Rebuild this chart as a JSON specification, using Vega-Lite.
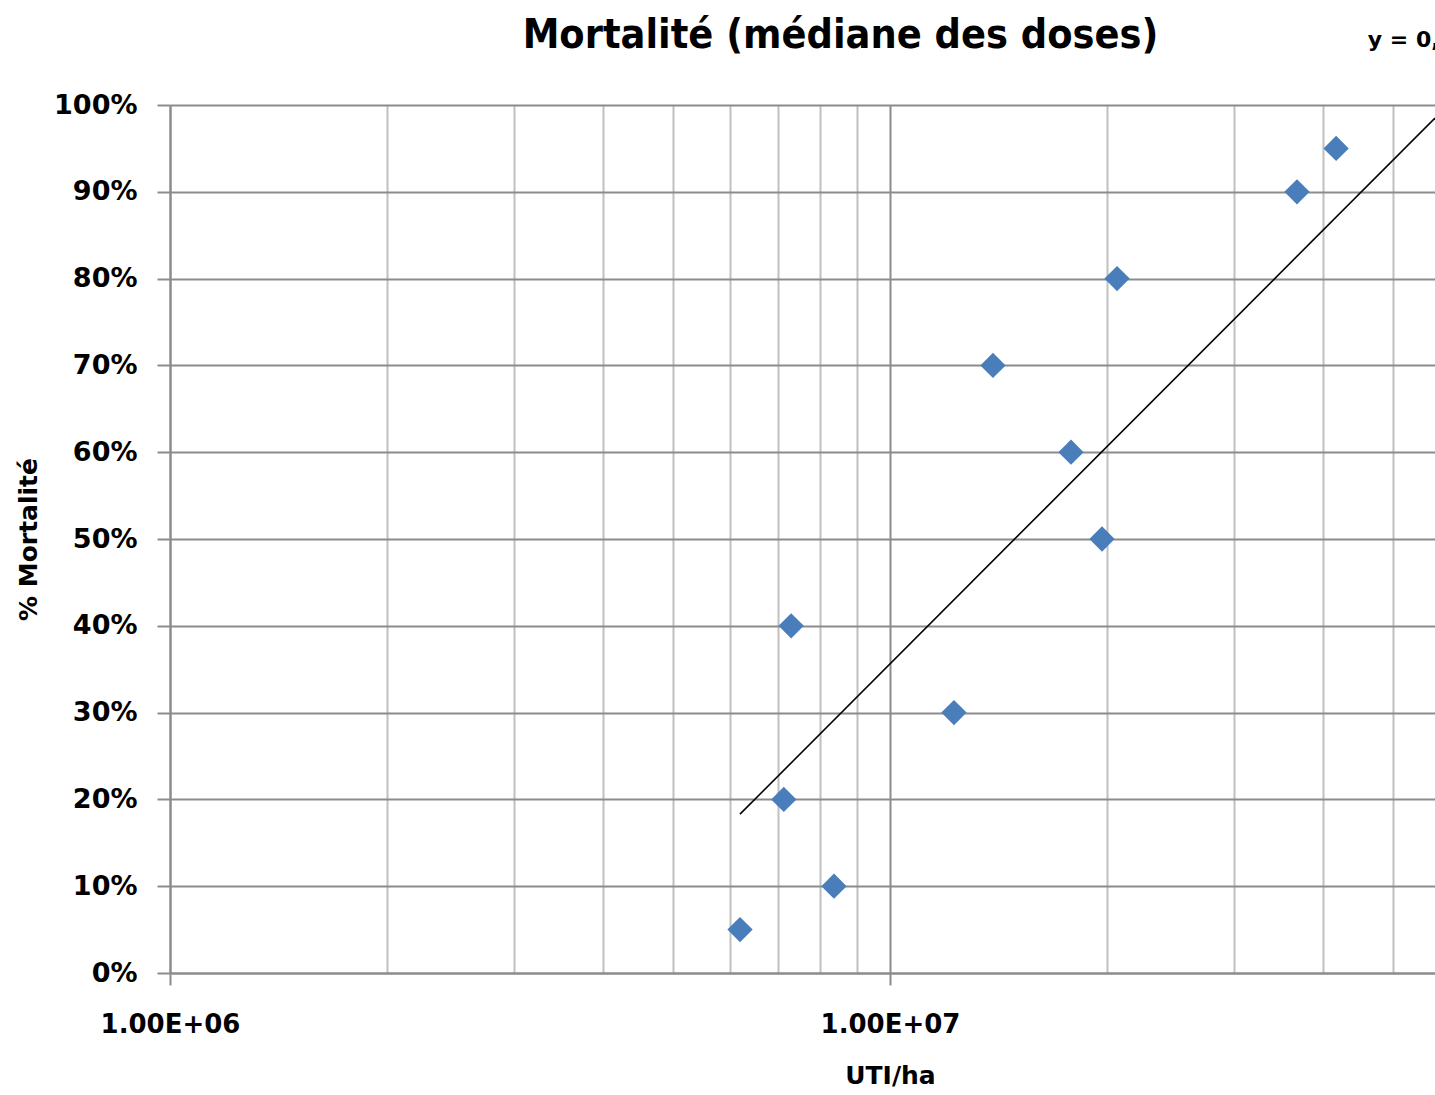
{
  "$schema": "https://vega.github.io/schema/vega-lite/v6.json",
  "autosize": {"type": "none"},
  "width": 1265,
  "height": 868,
  "padding": {"left": 170, "top": 105, "right": 0, "bottom": 122},
  "background": "white",
  "title": {
    "text": "Mortalité (médiane des doses)",
    "anchor": "middle",
    "frame": "group",
    "dx": 38,
    "offset": -60,
    "baseline": "alphabetic",
    "font": "DejaVu Sans Condensed, DejaVu Sans",
    "fontSize": 41,
    "fontWeight": "bold",
    "color": "black"
  },
  "datasets": {
    "points": [
      {"dose": 6190000, "mort": 0.05},
      {"dose": 7120000, "mort": 0.20},
      {"dose": 7290000, "mort": 0.40},
      {"dose": 8360000, "mort": 0.10},
      {"dose": 12270000, "mort": 0.30},
      {"dose": 13900000, "mort": 0.70},
      {"dose": 17840000, "mort": 0.60},
      {"dose": 19700000, "mort": 0.50},
      {"dose": 20670000, "mort": 0.80},
      {"dose": 36750000, "mort": 0.90},
      {"dose": 41650000, "mort": 0.95}
    ],
    "trend": [
      {"dose": 6190000, "mort": 0.183},
      {"dose": 57140000, "mort": 0.985}
    ],
    "eq": [
      {"dose": 46100000, "mort": 1.075, "label": "y = 0,361ln(x) - 5,463"}
    ]
  },
  "layer": [
    {
      "data": {"name": "points"},
      "mark": {"type": "point", "shape": "diamond", "filled": true, "size": 640, "color": "#4a7ebb", "opacity": 1, "strokeWidth": 0},
      "encoding": {
        "x": {
          "field": "dose", "type": "quantitative",
          "scale": {"type": "log", "domain": [1000000, 57140000], "nice": false, "zero": false},
          "axis": {
            "values": [1000000, 2000000, 3000000, 4000000, 5000000, 6000000, 7000000, 8000000, 9000000, 10000000, 20000000, 30000000, 40000000, 50000000],
            "labelExpr": "datum.value == 1000000 ? '1.00E+06' : (datum.value == 10000000 ? '1.00E+07' : '')",
            "labelOverlap": false,
            "labelBound": false,
            "labelFlush": false,
            "labelFont": "DejaVu Sans",
            "labelFontWeight": "bold",
            "labelFontSize": 26,
            "labelColor": "black",
            "labelPadding": 26,
            "tickSize": 12,
            "tickWidth": 2,
            "tickColor": {"condition": {"test": "datum.value == 1000000 || datum.value == 10000000", "value": "#8c8c8c"}, "value": "transparent"},
            "grid": true,
            "gridWidth": 2,
            "gridColor": {"condition": {"test": "datum.value == 1000000 || datum.value == 10000000", "value": "#8c8c8c"}, "value": "#c0c0c0"},
            "domainColor": "#8c8c8c",
            "domainWidth": 2,
            "title": "UTI/ha",
            "titleFont": "DejaVu Sans",
            "titleFontWeight": "bold",
            "titleFontSize": 25,
            "titleColor": "black",
            "titleX": 720,
            "titleY": 102,
            "titleAlign": "center",
            "titleBaseline": "middle"
          }
        },
        "y": {
          "field": "mort", "type": "quantitative",
          "scale": {"domain": [0, 1], "nice": false},
          "axis": {
            "values": [0, 0.1, 0.2, 0.3, 0.4, 0.5, 0.6, 0.7, 0.8, 0.9, 1.0],
            "format": ".0%",
            "labelFont": "DejaVu Sans",
            "labelFontWeight": "bold",
            "labelFontSize": 27,
            "labelColor": "black",
            "labelPadding": 20,
            "tickSize": 13,
            "tickWidth": 2,
            "tickColor": "#8c8c8c",
            "grid": true,
            "gridWidth": 2,
            "gridColor": "#8c8c8c",
            "domainColor": "#8c8c8c",
            "domainWidth": 2,
            "title": "% Mortalité",
            "titleFont": "DejaVu Sans",
            "titleFontWeight": "bold",
            "titleFontSize": 25,
            "titleColor": "black",
            "titleX": -142,
            "titleY": 434,
            "titleAngle": -90,
            "titleAlign": "center",
            "titleBaseline": "middle"
          }
        }
      }
    },
    {
      "data": {"name": "trend"},
      "mark": {"type": "line", "color": "black", "strokeWidth": 1.6, "clip": true},
      "encoding": {
        "x": {"field": "dose", "type": "quantitative", "scale": {"type": "log", "domain": [1000000, 57140000], "nice": false, "zero": false}},
        "y": {"field": "mort", "type": "quantitative", "scale": {"domain": [0, 1], "nice": false}}
      }
    },
    {
      "data": {"name": "eq"},
      "mark": {"type": "text", "align": "left", "baseline": "middle", "font": "DejaVu Sans", "fontWeight": "bold", "fontSize": 22, "color": "black", "clip": false},
      "encoding": {
        "x": {"field": "dose", "type": "quantitative", "scale": {"type": "log", "domain": [1000000, 57140000], "nice": false, "zero": false}},
        "y": {"field": "mort", "type": "quantitative", "scale": {"domain": [0, 1], "nice": false}},
        "text": {"field": "label"}
      }
    }
  ],
  "config": {
    "view": {"stroke": null}
  }
}
